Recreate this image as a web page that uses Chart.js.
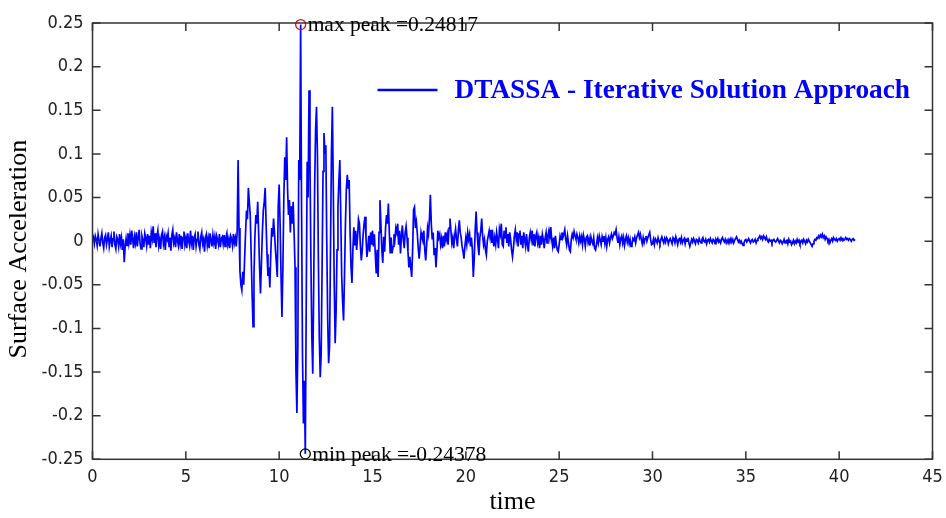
<!DOCTYPE html>
<html>
<head>
<meta charset="utf-8">
<script src="https://cdn.jsdelivr.net/npm/chart.js@4.4.1/dist/chart.umd.min.js"></script>
<style>
  html, body { margin: 0; padding: 0; background: #ffffff; }
  #wrap { width: 946px; height: 518px; position: relative; }
</style>
</head>
<body>
<div id="wrap"><canvas id="chart" width="946" height="518"></canvas></div>
<script>
// Surface acceleration record, sampled every dt seconds
const dt = 0.05;

// 0 - 7.95 s : ambient noise before the strong shaking
const preEvent = [
  0,.004,-.003,.006,.002,-.005,.008,.001,-.006,.003,.009,-.002,-.008,.004,.007,-.004,.002,.010,-.006,.001,
  .006,-.007,.003,.011,-.004,-.009,.005,.002,-.006,.008,-.003,.004,-.010,.002,-.024,-.006,.003,-.005,.009,-.002,
  .007,-.004,.012,.003,-.008,.005,-.002,.010,-.006,.004,.013,-.003,-.009,.006,.001,-.007,.009,.004,-.005,.008,
  -.004,.006,-.008,.010,.003,.017,-.002,.009,-.007,.005,.012,-.005,.002,-.009,.007,.011,-.003,.004,-.010,.006,
  .002,.009,-.006,.004,-.011,.007,.013,-.002,.003,-.007,.010,.001,-.005,.008,-.003,.006,-.009,.004,.011,-.004,
  .003,-.008,.009,.001,-.005,.012,-.002,.006,-.010,.004,.008,-.006,.002,.011,-.004,-.009,.005,.010,-.003,.002,
  -.012,.004,.008,-.005,.003,-.008,.009,.001,-.006,.007,-.002,.005,-.009,.006,.002,-.004,.008,-.007,.003,.005,
  -.003,.007,-.006,.004,.009,-.004,.002,-.008,.006,.003,-.005,.008,-.002,.004,-.006,.010,.093,.015,-.035,-.050
];

// 8 - 15.95 s : strong motion
const strongMotion = [
  -.056,-.035,-.050,-.020,.010,.035,.025,.061,.045,.030,-.015,-.060,-.098,-.040,.005,.030,.020,.045,.010,-.030,
  -.060,-.025,.010,.035,.045,.061,.020,-.015,-.040,-.030,-.053,-.015,.015,.005,.026,.010,-.010,-.025,-.041,.040,
  .065,.020,-.040,-.087,-.030,.050,.096,.070,.119,.060,.030,.047,.010,.040,.020,.045,.010,-.030,-.150,-.197,
  -.120,.093,.070,.24817,.040,-.130,-.209,-.160,-.24378,-.070,.091,.050,.173,.090,-.020,-.110,-.152,-.050,.060,.127,
  .154,.100,-.020,-.110,-.156,-.130,-.030,.080,.124,.100,.110,.000,-.090,-.140,-.120,-.010,.100,.154,.060,-.050,
  -.117,-.080,-.010,.040,.070,.093,.030,-.040,-.070,-.091,-.040,.020,.060,.076,.060,.070,.010,-.030,-.048,-.010,
  .016,-.005,.012,-.010,.005,.025,.020,-.005,-.022,-.010,.008,.020,.028,.005,-.018,-.008,.006,-.012,.010,-.004,
  .012,-.006,.008,-.015,-.037,-.010,-.041,.010,.047,.020,-.010,-.025,.005,-.012,.015,.030,.020,.043,.010,-.014
];

// 16 - 40.9 s : decaying coda
const coda = [
  .004,-.014,-.006,.008,.002,.015,.010,.020,-.004,.012,-.014,.006,.018,.002,-.008,.010,.017,.004,-.012,-.030,
  -.018,-.030,-.041,-.010,.036,.039,.015,.022,.009,-.008,-.020,-.006,.010,.004,.000,.012,-.010,-.022,-.005,.015,
  .008,.025,.053,.020,.002,.010,-.016,-.008,-.030,-.012,.012,.004,.008,-.004,.003,-.008,.006,-.006,.010,.002,
  .008,-.004,.015,.026,.012,-.002,.004,-.008,.006,.014,.002,-.006,.012,.024,.010,.004,-.006,-.012,-.020,-.006,
  .004,-.004,.010,.002,.008,-.006,.004,-.010,-.041,-.020,.012,.034,.010,-.005,-.016,.004,.012,.026,.006,-.004,
  .002,-.010,-.016,.000,.006,.012,.004,.013,-.002,.006,-.006,.004,-.004,.010,.002,-.008,.014,.008,.020,-.004,
  -.006,.012,.004,.016,-.002,.008,-.006,.010,.002,-.010,-.018,-.008,.006,.013,.002,.010,-.006,.008,.012,-.004,
  .006,-.008,.010,.002,-.006,.008,-.004,-.012,.004,.010,.002,.012,-.004,.008,-.006,.006,.010,-.002,.004,-.008,
  .006,-.004,.008,.002,-.008,.004,.010,-.002,.006,.012,.004,.016,.002,-.006,.004,-.008,.006,-.004,-.010,-.012,
  -.004,.006,.002,.010,.004,.008,.013,.002,-.004,.006,-.002,-.010,-.012,.002,.008,.004,.011,.006,.002,.008,
  .004,-.002,.006,.000,.005,-.004,.007,.002,-.006,.004,.006,-.002,.003,-.005,.005,.000,-.003,.004,-.008,-.010,
  -.004,.004,-.002,.006,.001,-.004,.005,.000,.006,-.003,.004,-.006,.002,.005,-.002,.004,.008,.003,.006,.010,
  .008,.013,.004,-.002,.005,-.004,.003,.006,-.002,.004,-.005,.002,.006,-.001,.004,-.003,.002,-.006,-.004,.003,
  .001,.005,-.002,.004,.007,.010,.004,.008,.002,-.003,.004,-.002,.003,.006,.000,.004,.007,.010,.002,-.004,
  -.003,.002,-.004,.003,.001,-.002,.004,.000,-.003,.002,.005,.001,-.002,.003,-.001,.004,.002,-.003,.001,.003,
  .000,-.003,.004,.002,-.002,.005,.001,-.004,.002,.003,-.001,.004,-.002,.001,.003,-.003,.002,.000,.004,-.002,
  -.006,-.002,.002,-.001,.003,.000,-.003,.002,.001,-.002,.003,.000,-.002,.002,.004,.000,-.001,.002,-.003,.001,
  .002,-.001,.003,.000,-.002,.002,.001,-.003,.002,.000,.003,-.001,.001,-.002,.002,.004,.001,-.001,.002,-.002,
  .001,-.002,.002,.000,.003,-.001,.002,-.002,.001,.003,.005,.002,-.001,.001,-.002,.000,-.003,-.005,-.002,.001,
  .002,-.001,.001,.003,.000,-.002,.001,.002,-.001,.000,.002,-.002,.001,.003,.004,.006,.003,.005,.002,.006,
  .004,.002,.005,.001,-.001,.002,.000,.001,-.002,.001,.002,.000,-.001,.001,.003,.000,-.002,.001,.000,-.003,
  -.001,.002,-.002,.000,.001,-.003,.002,-.001,.000,-.004,-.002,.001,-.003,.000,-.002,.002,-.001,.001,-.003,-.001,
  .001,-.002,.002,.000,-.003,.001,-.001,.002,.000,-.002,-.004,-.006,-.003,.000,.002,.001,.004,.003,.006,.004,
  .007,.005,.008,.004,.006,.002,.005,.003,.000,.002,-.002,.001,.003,.000,.004,.002,.001,.003,.000,.002,
  .003,.001,.004,.002,.003,.001,.002,.004,.002,.003,.001,.003,.002,.000,.002,.003,.001,.002,.002
];

const xTickValues = [0, 5, 10, 15, 20, 25, 30, 35, 40, 45];
const xTickLabels = ['0', '5', '10', '15', '20', '25', '30', '35', '40', '45'];
const yTickValues = [-0.25, -0.2, -0.15, -0.1, -0.05, 0, 0.05, 0.1, 0.15, 0.2, 0.25];
const yTickLabels = ['-0.25', '-0.2', '-0.15', '-0.1', '-0.05', '0', '0.05', '0.1', '0.15', '0.2', '0.25'];

const seriesName = 'DTASSA - Iterative Solution Approach';
const xTitle = 'time';
const yTitle = 'Surface Acceleration';

// assemble the time series
const accel = preEvent.concat(strongMotion, coda);
const points = accel.map((v, i) => ({ x: Math.round(i * dt * 100) / 100, y: v }));

// locate the extreme values
let iMax = 0, iMin = 0;
accel.forEach((v, i) => {
  if (v > accel[iMax]) iMax = i;
  if (v < accel[iMin]) iMin = i;
});
const maxPeak = { x: points[iMax].x, y: accel[iMax] };
const minPeak = { x: points[iMin].x, y: accel[iMin] };

const BLUE = '#0000ff';
const FRAME = '#333333';
const serif = '"Liberation Serif", "Times New Roman", serif';
const tickFont = '"DejaVu Sans Condensed", "Liberation Sans", sans-serif';

// boxed frame with inward ticks on all four sides, y title, peak labels and the legend
const decorations = {
  id: 'decorations',
  afterDraw(chart) {
    const { ctx, chartArea: a, scales: { x, y } } = chart;
    ctx.save();
    ctx.strokeStyle = FRAME;
    ctx.lineWidth = 1.5;
    ctx.strokeRect(a.left, a.top, a.right - a.left, a.bottom - a.top);
    const tl = 8;
    ctx.beginPath();
    xTickValues.forEach(v => {
      const px = x.getPixelForValue(v);
      ctx.moveTo(px, a.bottom); ctx.lineTo(px, a.bottom - tl);
      ctx.moveTo(px, a.top); ctx.lineTo(px, a.top + tl);
    });
    yTickValues.forEach(v => {
      const py = y.getPixelForValue(v);
      ctx.moveTo(a.left, py); ctx.lineTo(a.left + tl, py);
      ctx.moveTo(a.right, py); ctx.lineTo(a.right - tl, py);
    });
    ctx.stroke();

    // vertical axis title
    ctx.save();
    ctx.translate(19, (a.top + a.bottom) / 2 + 8);
    ctx.rotate(-Math.PI / 2);
    ctx.fillStyle = '#000000';
    ctx.font = '26px ' + serif;
    ctx.textAlign = 'center';
    ctx.textBaseline = 'middle';
    ctx.fillText(yTitle, 0, 0);
    ctx.restore();

    // peak annotations
    ctx.fillStyle = '#000000';
    ctx.font = '21.5px ' + serif;
    ctx.textBaseline = 'middle';
    ctx.textAlign = 'left';
    ctx.fillText('max peak =' + maxPeak.y, x.getPixelForValue(maxPeak.x) + 7, y.getPixelForValue(maxPeak.y) + 1);
    ctx.fillText('min peak =' + minPeak.y, x.getPixelForValue(minPeak.x) + 7, y.getPixelForValue(minPeak.y) + 1);

    // legend
    const lx = a.left + 285, ly = a.top + 67;
    ctx.strokeStyle = BLUE;
    ctx.lineWidth = 2.5;
    ctx.beginPath();
    ctx.moveTo(lx, ly); ctx.lineTo(lx + 60, ly);
    ctx.stroke();
    ctx.fillStyle = BLUE;
    ctx.font = 'bold 27.3px ' + serif;
    ctx.fillText(seriesName, lx + 77, ly + 1);
    ctx.restore();
  }
};

new Chart(document.getElementById('chart'), {
  type: 'line',
  data: {
    datasets: [
      {
        label: seriesName,
        data: points,
        borderColor: BLUE,
        borderWidth: 1.7,
        pointRadius: 0,
        tension: 0,
        fill: false,
        order: 2
      },
      {
        label: 'max peak',
        data: [maxPeak],
        showLine: false,
        pointRadius: 5,
        pointBorderColor: '#ff0000',
        pointBackgroundColor: 'rgba(0,0,0,0)',
        pointBorderWidth: 1.3,
        clip: false,
        order: 1
      },
      {
        label: 'min peak',
        data: [minPeak],
        showLine: false,
        pointRadius: 5,
        pointBorderColor: '#000000',
        pointBackgroundColor: 'rgba(0,0,0,0)',
        pointBorderWidth: 1.3,
        clip: false,
        order: 1
      }
    ]
  },
  options: {
    responsive: false,
    animation: false,
    events: [],
    layout: { padding: { top: 23, right: 13.5, bottom: 0, left: 0 } },
    plugins: { legend: { display: false }, tooltip: { enabled: false } },
    scales: {
      x: {
        type: 'linear',
        min: 0,
        max: 45,
        afterBuildTicks: s => { s.ticks = xTickValues.map(v => ({ value: v })); },
        afterFit: s => { s.height = 58.7; s.paddingLeft = 0; s.paddingRight = 0; },
        grid: { display: false, drawTicks: false },
        border: { display: false },
        ticks: {
          autoSkip: false,
          maxRotation: 0,
          padding: 7,
          color: '#222222',
          font: { family: tickFont, size: 18 },
          callback: (v, i) => xTickLabels[i]
        },
        title: {
          display: true,
          text: xTitle,
          color: '#000000',
          font: { family: serif, size: 26 },
          padding: { top: 0, bottom: 0 }
        }
      },
      y: {
        type: 'linear',
        min: -0.25,
        max: 0.25,
        afterBuildTicks: s => { s.ticks = yTickValues.map(v => ({ value: v })); },
        afterFit: s => { s.width = 92.5; s.paddingTop = 0; s.paddingBottom = 0; },
        grid: { display: false, drawTicks: false },
        border: { display: false },
        ticks: {
          autoSkip: false,
          padding: 9,
          color: '#222222',
          font: { family: tickFont, size: 18 },
          callback: (v, i) => yTickLabels[i]
        },
        title: { display: false, text: yTitle }
      }
    }
  },
  plugins: [decorations]
});
</script>
</body>
</html>
